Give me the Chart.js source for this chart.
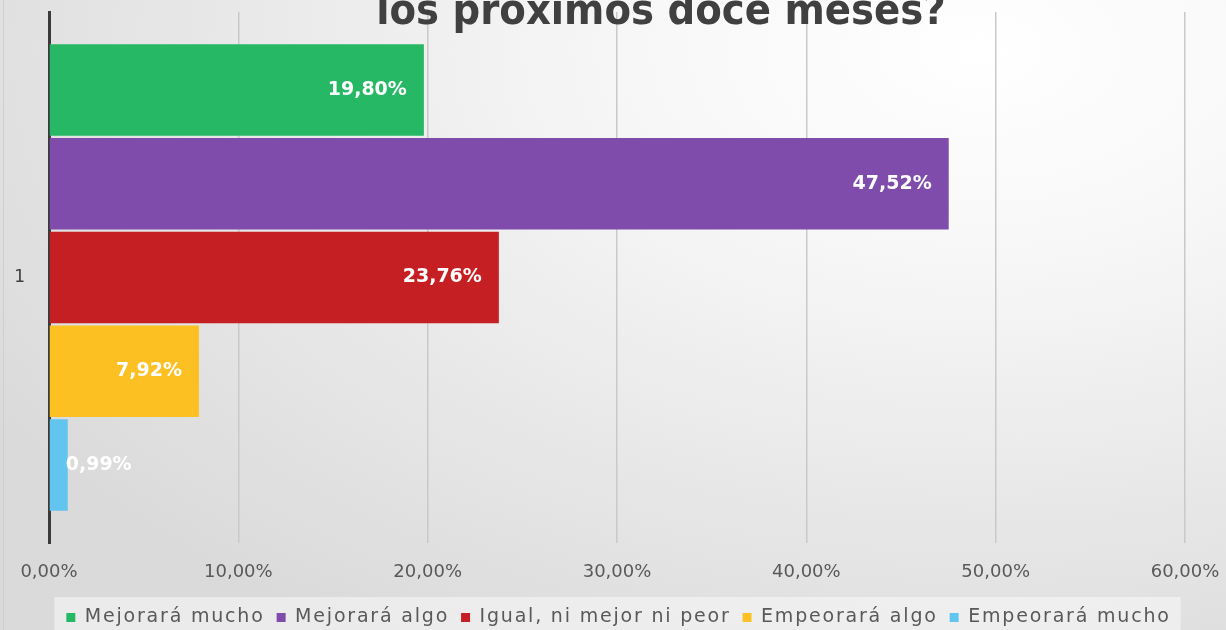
<!DOCTYPE html>
<html>
<head>
<meta charset="utf-8">
<script src="https://cdn.jsdelivr.net/npm/chart.js@4/dist/chart.umd.min.js"></script>
<style>
  html, body { margin: 0; padding: 0; }
  body {
    width: 1226px; height: 630px; overflow: hidden; position: relative;
    background: radial-gradient(ellipse 95% 110% at 80% 8%, #ffffff 0%, #f7f7f7 30%, #e6e6e6 70%, #dadada 100%);
  }
  #edge { position: absolute; left: 3px; top: 0; width: 1px; height: 630px; background: #cfcfcf; }
  #title {
    position: absolute; left: 0; top: -16px; width: 1226px; padding-left: 96px; box-sizing: border-box;
    text-align: center; font-family: "DejaVu Sans Condensed", "DejaVu Sans", sans-serif;
    font-weight: bold; font-size: 43px; line-height: 50px; color: #404040; white-space: nowrap;
  }
  #wrap { position: absolute; left: 0; top: 0; width: 1226px; height: 630px; }
</style>
</head>
<body>
<div id="edge"></div>
<div id="wrap"><canvas id="chart"></canvas></div>
<div id="title">los próximos doce meses?</div>
<script>
const categories = ['1'];
const seriesNames = ['Mejorará mucho', 'Mejorará algo', 'Igual, ni mejor ni peor', 'Empeorará algo', 'Empeorará mucho'];
const seriesValues = [19.80, 47.52, 23.76, 7.92, 0.99];
const seriesColors = ['#27b865', '#7f4cab', '#c61f23', '#fcc023', '#62c5ed'];
const tickValues = [0, 10, 20, 30, 40, 50, 60];

const fmt = v => v.toFixed(2).replace('.', ',') + '%';
const legendShift = { x: 26, y: 7 };

// white value labels at the end of each bar
const barLabels = {
  id: 'barLabels',
  afterDatasetsDraw(chart) {
    const ctx = chart.ctx;
    ctx.save();
    ctx.font = 'bold 19px "DejaVu Sans", sans-serif';
    ctx.fillStyle = '#ffffff';
    ctx.textBaseline = 'middle';
    chart.data.datasets.forEach((ds, i) => {
      const bar = chart.getDatasetMeta(i).data[0];
      const txt = fmt(ds.data[0]);
      const w = ctx.measureText(txt).width;
      if (bar.x - bar.base > w + 30) {
        ctx.textAlign = 'right';
        ctx.fillText(txt, bar.x - 17, bar.y);
      } else {
        ctx.textAlign = 'left';
        ctx.fillText(txt, bar.x - 2, bar.y);
      }
    });
    ctx.restore();
  }
};

// lighter box behind the legend, letter spacing for its text, nudged a bit
const legendLook = {
  id: 'legendLook',
  afterInit(chart) {
    const lg = chart.legend;
    ['fit', 'draw'].forEach(m => {
      const f = lg[m].bind(lg);
      lg[m] = function () {
        const c = chart.ctx;
        c.save();
        c.letterSpacing = '1.8px';
        if (m === 'draw') c.translate(legendShift.x, legendShift.y);
        f();
        c.restore();
      };
    });
  },
  beforeDraw(chart) {
    const boxes = chart.legend.legendHitBoxes;
    if (!boxes || !boxes.length) return;
    const l = Math.min(...boxes.map(b => b.left)) + legendShift.x;
    const r = Math.max(...boxes.map(b => b.left + b.width)) + legendShift.x;
    const ctx = chart.ctx;
    ctx.save();
    ctx.fillStyle = 'rgba(255,255,255,0.45)';
    ctx.fillRect(l - 12, 597, r - l + 22, 33);
    ctx.restore();
  }
};

new Chart(document.getElementById('chart'), {
  type: 'bar',
  data: {
    labels: categories,
    datasets: seriesNames.map((name, i) => ({
      label: name,
      data: [seriesValues[i]],
      backgroundColor: seriesColors[i],
      borderWidth: 0,
      categoryPercentage: 0.883,
      barPercentage: 0.975
    }))
  },
  options: {
    indexAxis: 'y',
    responsive: true,
    maintainAspectRatio: false,
    animation: false,
    layout: { padding: { top: 12, right: 41, left: 0, bottom: 0 } },
    scales: {
      x: {
        min: 0, max: 60,
        afterBuildTicks: s => { s.ticks = tickValues.map(v => ({ value: v })); },
        afterFit: s => { s.height = 46; s.paddingLeft = 0; s.paddingRight = 0; },
        grid: { color: '#c9c9c9', lineWidth: 1.5, drawTicks: false },
        border: { display: false },
        ticks: {
          padding: 19,
          color: '#595959',
          font: { family: '"DejaVu Sans", sans-serif', size: 18 },
          callback: v => fmt(v)
        }
      },
      y: {
        afterFit: s => { s.width = 49; s.paddingTop = 0; s.paddingBottom = 0; },
        grid: { display: false, drawTicks: false },
        border: { display: true, color: '#3a3a3a', width: 3 },
        ticks: {
          padding: 24,
          color: '#404040',
          font: { family: '"DejaVu Sans", sans-serif', size: 17 }
        }
      }
    },
    plugins: {
      legend: {
        position: 'bottom',
        padding: 8,
        labels: {
          boxWidth: 9, boxHeight: 9, padding: 12,
          color: '#595959',
          font: { family: '"DejaVu Sans", sans-serif', size: 19 }
        }
      },
      tooltip: { enabled: false },
      title: { display: false }
    }
  },
  plugins: [barLabels, legendLook]
});
</script>
</body>
</html>
